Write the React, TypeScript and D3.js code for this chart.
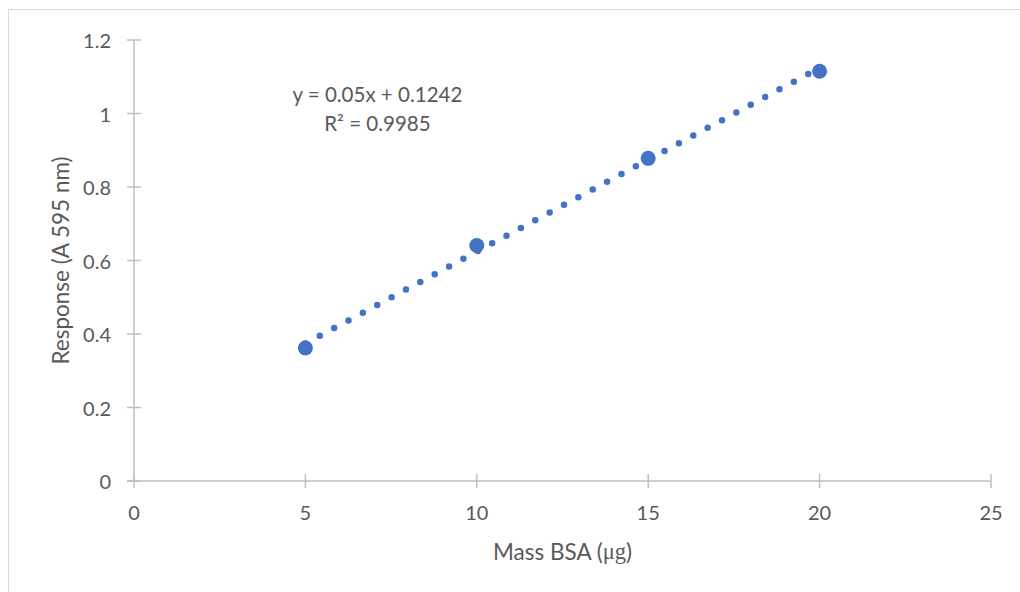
import React from "react";
import * as d3 from "d3";

// standard curve data (BSA mass vs absorbance)
const massBSA = [5, 10, 15, 20];
const response = [0.362, 0.641, 0.878, 1.115];
const xTicks = [0, 5, 10, 15, 20, 25];
const yTicks = [0, 0.2, 0.4, 0.6, 0.8, 1, 1.2];
const slope = 0.05;
const intercept = 0.1242;
const rSquared = 0.9985;

const W = 1020;
const H = 592;
const FONT = "Lato, 'Open Sans', sans-serif";
const TEXT = "#595959";
const AXIS = "#bfbfbf";
const BLUE = "#4472c4";

const App = () => {
  const x = d3.scaleLinear().domain([0, 25]).range([134, 991]);
  const y = d3.scaleLinear().domain([0, 1.2]).range([481, 40]);

  const x0 = d3.min(massBSA) as number;
  const x1 = d3.max(massBSA) as number;
  const trend = d3
    .line<number>()
    .x((d) => x(d))
    .y((d) => y(slope * d + intercept))([x0, x1]);

  const eqX = x(7.1);
  const eqY = y(1.03);

  return (
    <svg
      width={W}
      height={H}
      style={{ position: "absolute", left: 0, top: 0, background: "#fff" }}
    >
      {/* chart frame */}
      <rect x={8.5} y={9.5} width={W + 10} height={H + 10} fill="#fff" stroke="#d9d9d9" />

      {/* y axis */}
      <line x1={x(0)} x2={x(0)} y1={y(1.2)} y2={y(0)} stroke={AXIS} strokeWidth={1.5} />
      {yTicks.map((t) => (
        <g key={"y" + t}>
          <line x1={x(0) - 7} x2={x(0) + 7} y1={y(t)} y2={y(t)} stroke={AXIS} strokeWidth={1.5} />
          <text
            x={x(0) - 23}
            y={y(t)}
            textAnchor="end"
            dominantBaseline="central"
            fontFamily={FONT}
            fontSize={20}
            fill={TEXT}
          >
            {d3.format("~g")(t)}
          </text>
        </g>
      ))}

      {/* x axis */}
      <line x1={x(0) - 7} x2={x(25)} y1={y(0)} y2={y(0)} stroke={AXIS} strokeWidth={1.5} />
      {xTicks.map((t) => (
        <g key={"x" + t}>
          <line x1={x(t)} x2={x(t)} y1={y(0) - 7} y2={y(0) + 7} stroke={AXIS} strokeWidth={1.5} />
          <text
            x={x(t)}
            y={y(0) + 31}
            textAnchor="middle"
            dominantBaseline="central"
            fontFamily={FONT}
            fontSize={20}
            fill={TEXT}
          >
            {t}
          </text>
        </g>
      ))}

      {/* axis titles */}
      <text
        x={(x(0) + x(25)) / 2}
        y={551}
        textAnchor="middle"
        dominantBaseline="central"
        fontFamily={FONT}
        fontSize={22.5}
        fill={TEXT}
      >
        Mass BSA (
        <tspan fontFamily="'Liberation Serif', serif">μg</tspan>)
      </text>
      <text
        transform={`translate(60,${(y(0) + y(1.2)) / 2}) rotate(-90)`}
        textAnchor="middle"
        dominantBaseline="central"
        fontFamily={FONT}
        fontSize={22.5}
        fill={TEXT}
      >
        Response (A 595 nm)
      </text>

      {/* linear trendline, dotted */}
      <path
        d={trend ?? ""}
        fill="none"
        stroke={BLUE}
        strokeWidth={6.5}
        strokeLinecap="round"
        strokeDasharray="0 16.3"
      />

      {/* data markers */}
      {massBSA.map((m, i) => (
        <circle key={m} cx={x(m)} cy={y(response[i])} r={7.5} fill={BLUE} />
      ))}

      {/* trendline equation */}
      <text x={eqX} y={eqY} textAnchor="middle" fontFamily={FONT} fontSize={20.5} fill={TEXT}>
        <tspan x={eqX} dy={0}>
          y = {slope}x + {intercept}
        </tspan>
        <tspan x={eqX} dy={29}>
          R² = {rSquared}
        </tspan>
      </text>
    </svg>
  );
};

export default App;
